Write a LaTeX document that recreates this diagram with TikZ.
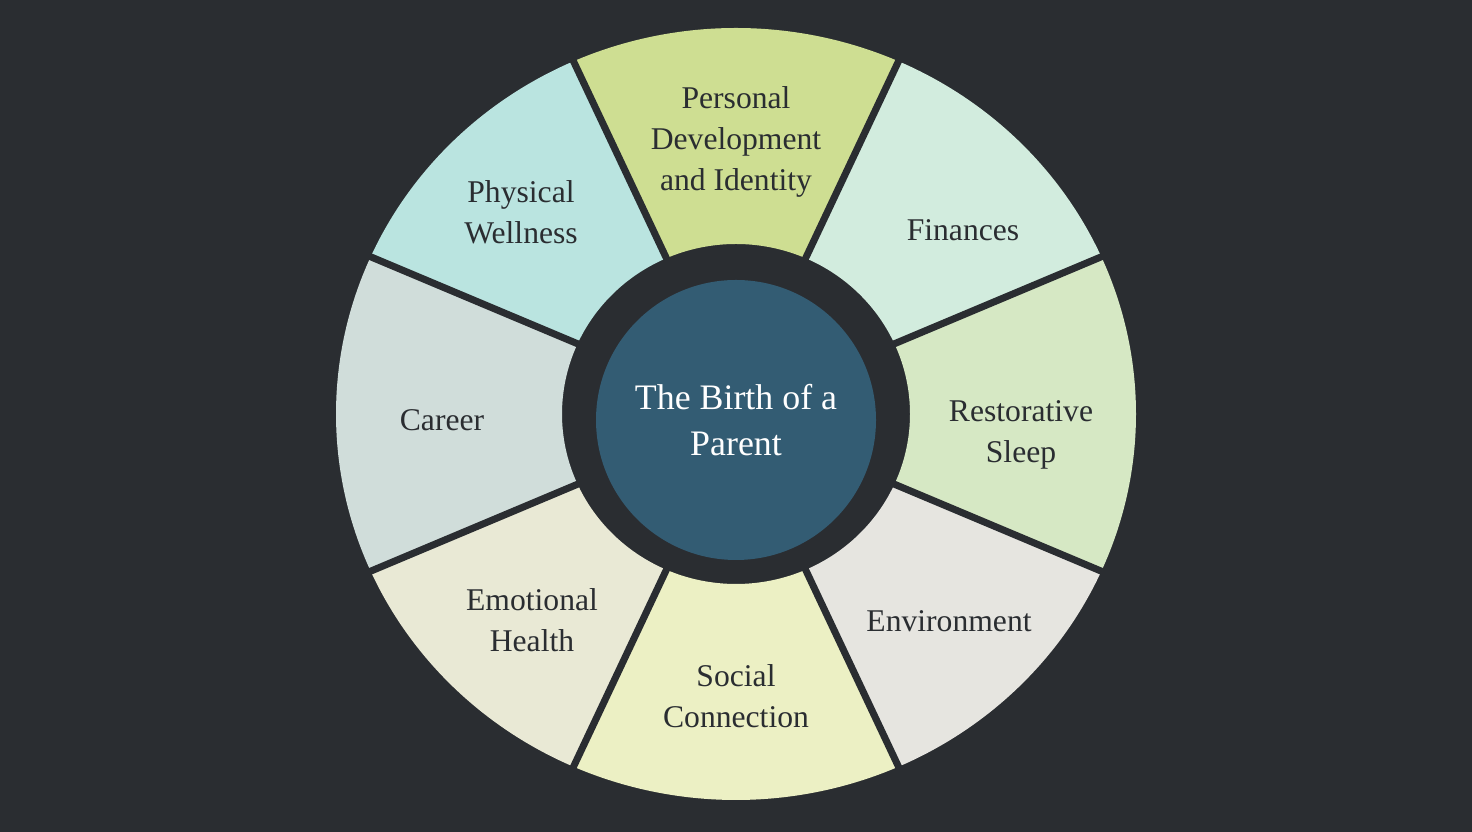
\documentclass[tikz,border=0pt]{standalone}
\usepackage{fontspec}
\setmainfont{Liberation Serif}
\usepackage{tikz}
\usetikzlibrary{calc,positioning}
\usepackage{xcolor}
\definecolor{wheelbg}{RGB}{42,45,49}
\definecolor{wheelink}{RGB}{42,45,49}
\definecolor{hubblue}{RGB}{51,92,115}
\definecolor{segpersonal}{RGB}{206,222,146}
\definecolor{segfinance}{RGB}{210,236,222}
\definecolor{segsleep}{RGB}{214,232,196}
\definecolor{segenviron}{RGB}{230,229,224}
\definecolor{segsocial}{RGB}{236,240,196}
\definecolor{segemotion}{RGB}{233,233,213}
\definecolor{segcareer}{RGB}{208,221,218}
\definecolor{segphysical}{RGB}{186,228,224}
\tikzstyle{seglabel} = [text=wheelink, align=center, font=\fontsize{9}{11.7}\selectfont]
\tikzstyle{hub} = [circle, fill=hubblue, minimum size=2.8cm, inner sep=0pt, text=white, align=center, font=\fontsize{10.2}{13.1}\selectfont]
\tikzstyle{spoke} = [draw=wheelbg, line width=0.07cm]
% one coloured wedge of the wheel: colour, start angle, end angle
\newcommand{\wheelwedge}[3]{%
  \fill[#1] ($(hubc)+(#2:4 and 3.86)$) arc[start angle=#2, end angle=#3, x radius=4cm, y radius=3.86cm]
    -- ($(hubc)+(#3:1.74 and 1.70)$) arc[start angle=#3, end angle=#2, x radius=1.74cm, y radius=1.70cm] -- cycle;}

\begin{document}
\begin{tikzpicture}
\fill[wheelbg] (0,0) rectangle (14.72,8.32);
\useasboundingbox (0,0) rectangle (14.72,8.32);
\coordinate (hubc) at (7.36,4.18);
% wedges
\wheelwedge{segpersonal}{66}{114}
\wheelwedge{segfinance}{24}{66}
\wheelwedge{segsleep}{-24}{24}
\wheelwedge{segenviron}{-66}{-24}
\wheelwedge{segsocial}{-114}{-66}
\wheelwedge{segemotion}{-156}{-114}
\wheelwedge{segcareer}{156}{204}
\wheelwedge{segphysical}{114}{156}
% dark gaps between wedges
\draw[spoke] ($(hubc)+(24:1.6 and 1.6)$) -- ($(hubc)+(24:4.1 and 3.96)$);
\draw[spoke] ($(hubc)+(66:1.6 and 1.6)$) -- ($(hubc)+(66:4.1 and 3.96)$);
\draw[spoke] ($(hubc)+(114:1.6 and 1.6)$) -- ($(hubc)+(114:4.1 and 3.96)$);
\draw[spoke] ($(hubc)+(156:1.6 and 1.6)$) -- ($(hubc)+(156:4.1 and 3.96)$);
\draw[spoke] ($(hubc)+(204:1.6 and 1.6)$) -- ($(hubc)+(204:4.1 and 3.96)$);
\draw[spoke] ($(hubc)+(246:1.6 and 1.6)$) -- ($(hubc)+(246:4.1 and 3.96)$);
\draw[spoke] ($(hubc)+(294:1.6 and 1.6)$) -- ($(hubc)+(294:4.1 and 3.96)$);
\draw[spoke] ($(hubc)+(336:1.6 and 1.6)$) -- ($(hubc)+(336:4.1 and 3.96)$);
% centre
\node[hub] (parent) at (7.36,4.12) {The Birth of a\\Parent};
% labels
\node[seglabel] (personal) at (7.36,6.90) {Personal\\Development\\and Identity};
\node[seglabel] (finances) at (9.63,6.02) {Finances};
\node[seglabel] (sleep) at (10.21,3.97) {Restorative\\Sleep};
\node[seglabel] (environment) at (9.49,2.11) {Environment};
\node[seglabel] (social) at (7.36,1.36) {Social\\Connection};
\node[seglabel] (emotional) at (5.32,2.12) {Emotional\\Health};
\node[seglabel] (career) at (4.42,4.12) {Career};
\node[seglabel] (physical) at (5.21,6.20) {Physical\\Wellness};
\end{tikzpicture}
\end{document}
